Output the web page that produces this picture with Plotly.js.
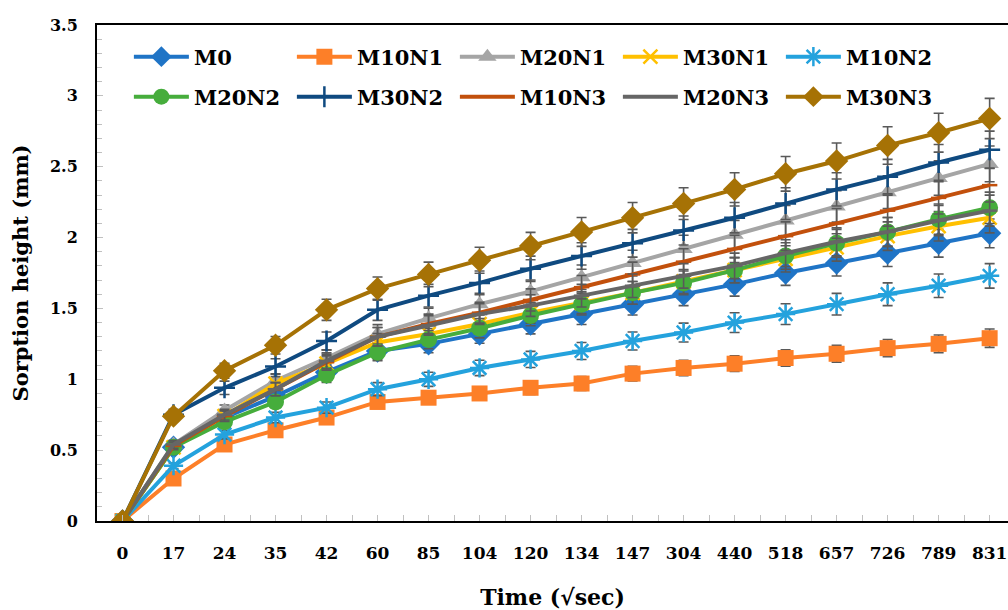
<!DOCTYPE html>
<html>
<head>
<meta charset="utf-8">
<script src="https://cdn.plot.ly/plotly-3.0.1.min.js"></script>
<style>html,body{margin:0;padding:0;background:#fff;}#chart{width:1008px;height:610px;}</style>
</head>
<body>
<div id="chart"></div>
<script>
// Time categories (√sec)
const timeLabels = ['0','17','24','35','42','60','85','104','120','134','147','304','440','518','657','726','789','831'];

// Sorption height (mm) per mix
const M0    = [0, 0.52, 0.73, 0.88, 1.05, 1.20, 1.25, 1.32, 1.39, 1.46, 1.53, 1.60, 1.67, 1.75, 1.82, 1.89, 1.96, 2.03];
const M10N1 = [0, 0.30, 0.54, 0.64, 0.73, 0.84, 0.87, 0.90, 0.94, 0.97, 1.04, 1.08, 1.11, 1.15, 1.18, 1.22, 1.25, 1.29];
const M20N1 = [0, 0.54, 0.78, 0.99, 1.15, 1.32, 1.43, 1.53, 1.62, 1.72, 1.82, 1.92, 2.02, 2.12, 2.22, 2.32, 2.42, 2.52];
const M30N1 = [0, 0.52, 0.74, 0.97, 1.11, 1.26, 1.32, 1.39, 1.47, 1.54, 1.61, 1.69, 1.77, 1.85, 1.93, 2.01, 2.08, 2.14];
const M10N2 = [0, 0.39, 0.61, 0.73, 0.80, 0.93, 1.00, 1.08, 1.14, 1.20, 1.27, 1.33, 1.40, 1.46, 1.53, 1.60, 1.66, 1.73];
const M20N2 = [0, 0.52, 0.70, 0.84, 1.03, 1.19, 1.28, 1.36, 1.45, 1.53, 1.61, 1.68, 1.77, 1.87, 1.96, 2.04, 2.13, 2.21];
const M30N2 = [0, 0.75, 0.94, 1.09, 1.27, 1.49, 1.59, 1.68, 1.78, 1.87, 1.96, 2.05, 2.14, 2.24, 2.34, 2.43, 2.53, 2.62];
const M10N3 = [0, 0.53, 0.74, 0.93, 1.12, 1.30, 1.39, 1.47, 1.56, 1.65, 1.74, 1.83, 1.92, 2.01, 2.10, 2.19, 2.28, 2.37];
const M20N3 = [0, 0.54, 0.75, 0.93, 1.13, 1.30, 1.38, 1.46, 1.52, 1.59, 1.66, 1.73, 1.80, 1.89, 1.97, 2.04, 2.12, 2.19];
const M30N3 = [0, 0.74, 1.06, 1.24, 1.49, 1.64, 1.74, 1.84, 1.94, 2.04, 2.14, 2.24, 2.34, 2.45, 2.54, 2.65, 2.74, 2.84];

const seriesNames = ['M0','M10N1','M20N1','M30N1','M10N2','M20N2','M30N2','M10N3','M20N3','M30N3'];
const seriesData  = [M0, M10N1, M20N1, M30N1, M10N2, M20N2, M30N2, M10N3, M20N3, M30N3];
const errorPercent = 5;

const styles = {
  M0:    {color:'#1f74c6', symbol:'diamond', size:18},
  M10N1: {color:'#fd7f28', symbol:'square', size:16},
  M20N1: {color:'#a5a5a5', symbol:'triangle-up', size:16},
  M30N1: {color:'#ffc000', symbol:'x-thin', size:14, open:true},
  M10N2: {color:'#24a2dd', symbol:'asterisk', size:16, open:true},
  M20N2: {color:'#46ad3c', symbol:'circle', size:17},
  M30N2: {color:'#0f4a80', symbol:'cross-thin', size:15, open:true},
  M10N3: {color:'#c2500c', symbol:'line-ew', size:11, open:true},
  M20N3: {color:'#666666', symbol:'line-ew', size:11, open:true},
  M30N3: {color:'#a67205', symbol:'diamond', size:18}
};

const xIdx = timeLabels.map((_, i) => i);
const font = 'DejaVu Serif, Liberation Serif, serif';

const traces = seriesNames.map((name, k) => {
  const s = styles[name];
  const marker = {symbol: s.symbol, size: s.size, color: s.color};
  if (s.open) marker.line = {color: s.color, width: 2.5};
  return {
    type: 'scatter', mode: 'lines+markers', name: name,
    legend: k < 5 ? 'legend' : 'legend2',
    x: xIdx, y: seriesData[k],
    line: {color: s.color, width: 4},
    marker: marker,
    error_y: {type:'percent', value: errorPercent, visible: true, color:'#595959', thickness:1.6, width:5}
  };
});

const legendBase = {
  orientation: 'h', xanchor: 'left', yanchor: 'middle', x: 0.035,
  entrywidth: 93, entrywidthmode: 'pixels', itemwidth: 55,
  font: {family: font, size: 21, weight: 700, color:'#000'},
  bgcolor: 'rgba(0,0,0,0)'
};

const layout = {
  width: 1008, height: 610,
  margin: {l: 97, r: 0, t: 25, b: 89},
  paper_bgcolor: '#ffffff', plot_bgcolor: '#ffffff',
  font: {family: font, color: '#000', size: 16},
  showlegend: true,
  legend: Object.assign({}, legendBase, {y: (521 - 57) / 496}),
  legend2: Object.assign({}, legendBase, {y: (521 - 97) / 496}),
  xaxis: {
    range: [-0.5, 17.36],
    tickvals: xIdx, ticktext: timeLabels,
    ticks: 'inside', ticklen: 6, tickcolor: '#c0c0c0', tickwidth: 1,
    minor: {tick0: 0.5, dtick: 1, ticks: 'inside', ticklen: 6, tickcolor: '#c0c0c0'},
    showgrid: false, zeroline: false,
    showline: true, linecolor: '#000', linewidth: 2, mirror: true,
    tickfont: {family: font, size: 17, weight: 700},
    ticklabelstandoff: 16,
    title: {text: 'Time (√sec)', font: {family: font, size: 22, weight: 700}, standoff: 28}
  },
  yaxis: {
    range: [0, 3.5], tickvals: [0,0.5,1,1.5,2,2.5,3,3.5],
    ticktext: ['0','0.5','1','1.5','2','2.5','3','3.5'],
    ticks: 'inside', ticklen: 6, tickcolor: '#c0c0c0',
    minor: {dtick: 0.1, ticks: 'inside', ticklen: 5, tickcolor: '#c0c0c0'},
    showgrid: false, zeroline: false,
    showline: true, linecolor: '#000', linewidth: 2,
    tickfont: {family: font, size: 16, weight: 700},
    ticklabelstandoff: 14,
    title: {text: 'Sorption height (mm)', font: {family: font, size: 21, weight: 700}, standoff: 16}
  }
};

Plotly.newPlot('chart', traces, layout, {displayModeBar: false, staticPlot: true});
</script>
</body>
</html>
